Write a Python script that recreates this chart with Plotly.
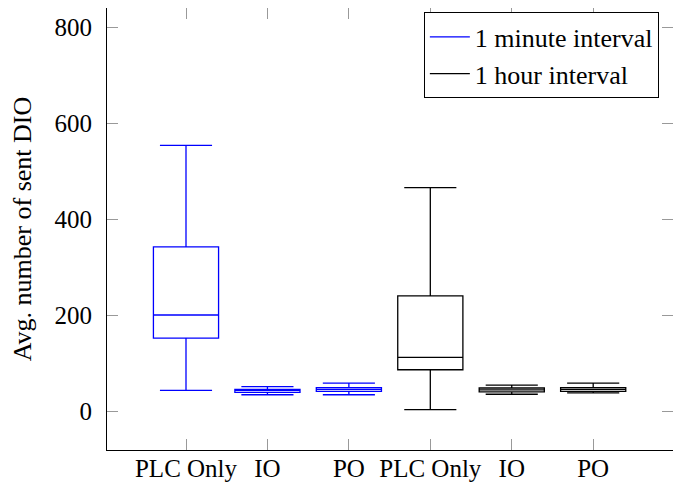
import plotly.graph_objects as go

categories = ["PLC Only", "IO", "PO"]
series_names = ["1 minute interval", "1 hour interval"]

# 1 minute interval
min_lower = [44, 35, 35]
min_q1 = [153, 40, 42]
min_median = [201, 44, 46]
min_q3 = [343, 46, 50]
min_upper = [554, 52, 59]

# 1 hour interval
hour_lower = [4, 36, 39]
hour_q1 = [87, 41, 42]
hour_median = [113, 45, 46]
hour_q3 = [241, 49, 50]
hour_upper = [466, 55, 59]

colors = ["#0000ff", "#000000"]
FONT = "Liberation Serif, Times New Roman, serif"
FS = 25

n = len(categories)
pos_min = list(range(1, n + 1))
pos_hour = list(range(n + 1, 2 * n + 1))

fig = go.Figure()
for pos, lo, q1, med, q3, up, col, name in [
    (pos_min, min_lower, min_q1, min_median, min_q3, min_upper, colors[0], series_names[0]),
    (pos_hour, hour_lower, hour_q1, hour_median, hour_q3, hour_upper, colors[1], series_names[1]),
]:
    fig.add_trace(go.Box(
        x=pos, q1=q1, median=med, q3=q3, lowerfence=lo, upperfence=up,
        width=0.8, whiskerwidth=0.8, boxpoints=False,
        line=dict(color=col, width=1.3), fillcolor="rgba(255,255,255,0)",
        showlegend=False, name=name, hoverinfo="skip",
    ))
    fig.add_trace(go.Scatter(
        x=[None], y=[None], mode="lines", name=name,
        line=dict(color=col, width=1.3), showlegend=True,
    ))

fig.update_layout(
    width=673, height=477,
    margin=dict(l=99, r=8, t=0, b=35),
    paper_bgcolor="white", plot_bgcolor="white",
    font=dict(family=FONT, size=FS, color="black"),
    legend=dict(
        x=0.975, y=0.99, xanchor="right", yanchor="top",
        bordercolor="black", borderwidth=1, bgcolor="white",
        font=dict(family=FONT, size=26, color="black"),
        tracegroupgap=0, itemwidth=40,
    ),
    showlegend=True,
)
fig.update_xaxes(
    range=[0.03, 6.98], automargin=False,
    tickvals=pos_min + pos_hour, ticktext=categories + categories,
    ticks="inside", ticklen=11, tickcolor="#999999", tickwidth=1,
    showline=True, linecolor="black", linewidth=1.2, mirror="allticks",
    showgrid=False, zeroline=False,
    tickfont=dict(family=FONT, size=FS, color="black"),
    ticklabelstandoff=-4,
)
fig.update_yaxes(
    range=[-80, 840], automargin=False,
    tickvals=[0, 200, 400, 600, 800],
    ticks="inside", ticklen=11, tickcolor="#999999", tickwidth=1,
    showline=True, linecolor="black", linewidth=1.2, mirror="allticks",
    showgrid=False, zeroline=False,
    tickfont=dict(family=FONT, size=FS, color="black"),
    ticklabelstandoff=9,
    title=dict(text="Avg. number of sent DIO", standoff=20,
               font=dict(family=FONT, size=26, color="black")),
)

fig.write_html("out.html")
